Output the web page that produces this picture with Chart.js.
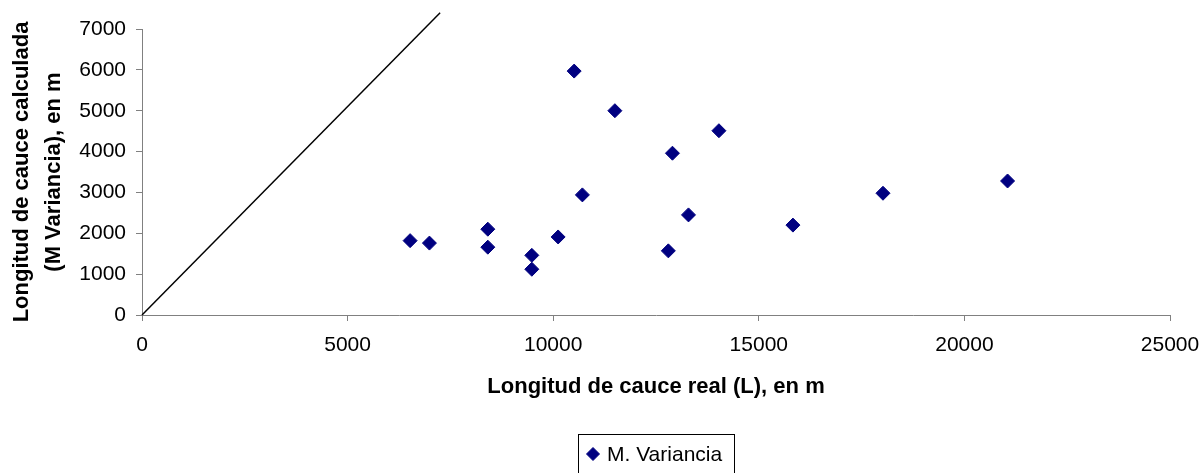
<!DOCTYPE html>
<html>
<head>
<meta charset="utf-8">
<script src="https://cdn.jsdelivr.net/npm/chart.js@4/dist/chart.umd.min.js"></script>
<style>
  body { margin: 0; background: #fff; }
  #grafico { display: block; }
</style>
</head>
<body>
<canvas id="grafico" width="1201" height="473"></canvas>
<script>
// Longitud real (L) de cada cauce, en m
const longitudReal = [6520, 6990, 8410, 8410, 9480, 9480, 10120, 10510, 10710, 11500, 12900, 12800, 13290, 14030, 15830, 18020, 21050];
// Longitud calculada por el metodo de la varianza, en m
const longitudCalculada = [1820, 1760, 2100, 1660, 1460, 1120, 1910, 5970, 2940, 5000, 3960, 1570, 2450, 4510, 2200, 2980, 3280];
// Recta de referencia que sale del origen
const rectaX = [0, 7250];
const rectaY = [0, 7400];

const etiquetaSerie = "M. Variancia";
const tituloX = "Longitud de cauce real (L), en m";
const tituloY = ["Longitud de cauce calculada", "(M Variancia), en m"];

const fuente = "'Liberation Sans', Arial, sans-serif";
const azul = "#000080";

// Leyenda con marco, dibujada debajo del titulo del eje X
const leyendaMarco = {
  id: "leyendaMarco",
  afterDraw(chart) {
    const ctx = chart.ctx;
    const ds = chart.data.datasets[0];
    ctx.save();
    ctx.font = "21px " + fuente;
    const anchoTexto = ctx.measureText(ds.label).width;
    const ancho = Math.round(29 + anchoTexto + 12);
    const centro = (chart.chartArea.left + chart.chartArea.right) / 2;
    const x0 = Math.round(centro - ancho / 2);
    const y0 = 434;
    ctx.strokeStyle = "#000";
    ctx.lineWidth = 1;
    ctx.strokeRect(x0 + 0.5, y0 + 0.5, ancho, 60);
    ctx.fillStyle = ds.backgroundColor;
    ctx.strokeStyle = ds.borderColor;
    Chart.helpers.drawPoint(ctx, { pointStyle: "rectRot", radius: 6.5, borderWidth: 1 }, x0 + 15, 454);
    ctx.fillStyle = "#000";
    ctx.textBaseline = "alphabetic";
    ctx.fillText(ds.label, x0 + 29, 461);
    ctx.restore();
  }
};

const puntos = longitudReal.map((v, i) => ({ x: v, y: longitudCalculada[i] }));
const recta = rectaX.map((v, i) => ({ x: v, y: rectaY[i] }));

// Numeros sin separador de miles
const sinSeparador = (v) => String(v);

new Chart(document.getElementById("grafico"), {
  type: "scatter",
  data: {
    datasets: [
      {
        label: etiquetaSerie,
        data: puntos,
        pointStyle: "rectRot",
        pointRadius: 7,
        pointHoverRadius: 7,
        backgroundColor: azul,
        borderColor: azul,
        borderWidth: 1
      },
      {
        label: "recta",
        type: "line",
        data: recta,
        borderColor: "#000",
        borderWidth: 1.5,
        pointRadius: 0,
        fill: false,
        clip: false
      }
    ]
  },
  options: {
    responsive: false,
    animation: false,
    layout: { padding: { top: 29, right: 0, bottom: 73, left: 0 } },
    plugins: {
      legend: { display: false },
      tooltip: { enabled: false }
    },
    scales: {
      x: {
        type: "linear",
        min: 0,
        max: 25000,
        // espacio fijo para el titulo y para la ultima etiqueta a la derecha
        afterFit: (s) => { s.height = 85; s.paddingRight = 31; },
        ticks: { stepSize: 5000, padding: 12, color: "#000", callback: sinSeparador, font: { family: fuente, size: 21 } },
        grid: { drawOnChartArea: false, tickLength: 6, color: "#808080" },
        border: { color: "#808080", width: 1 },
        title: {
          display: true,
          text: tituloX,
          color: "#000",
          padding: 0,
          font: { family: fuente, size: 22, weight: "bold" }
        }
      },
      y: {
        type: "linear",
        min: 0,
        max: 7000,
        afterFit: (s) => { s.width = 142; },
        ticks: { stepSize: 1000, padding: 10, color: "#000", callback: sinSeparador, font: { family: fuente, size: 21 } },
        grid: { drawOnChartArea: false, tickLength: 6, color: "#808080" },
        border: { color: "#808080", width: 1 },
        title: {
          display: true,
          text: tituloY,
          color: "#000",
          padding: { top: 6, bottom: 0 },
          font: { family: fuente, size: 22, weight: "bold", lineHeight: 1.45 }
        }
      }
    }
  },
  plugins: [leyendaMarco]
});
</script>
</body>
</html>
